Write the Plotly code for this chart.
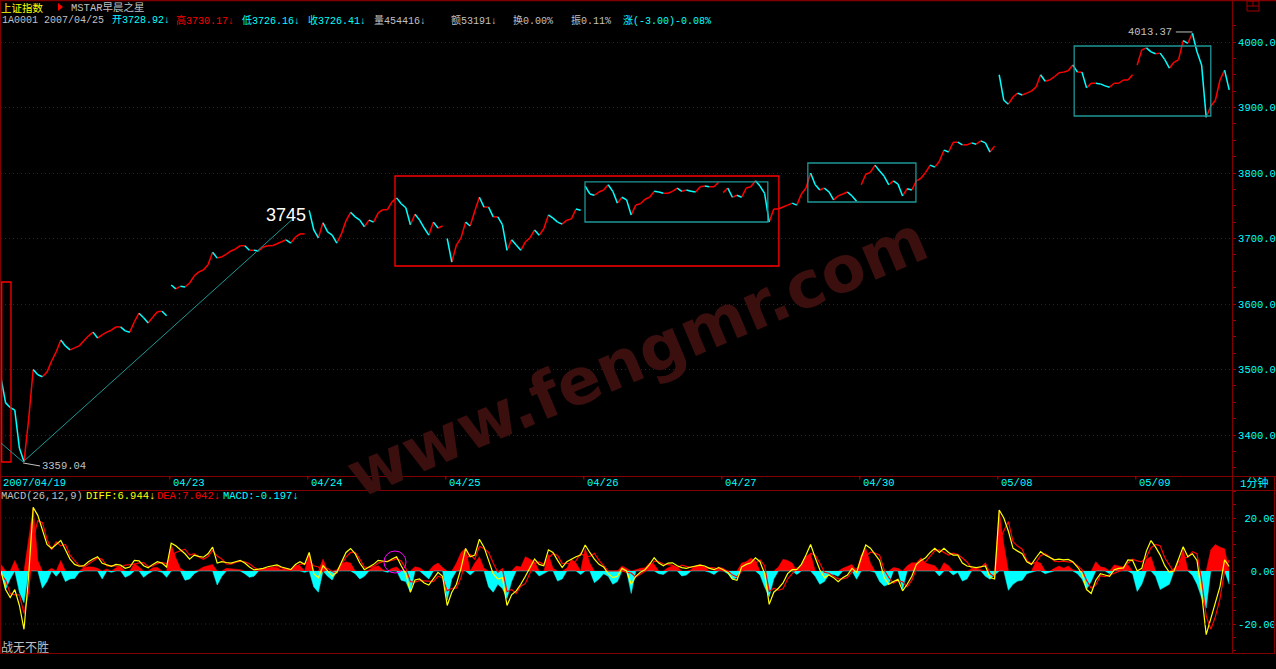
import plotly.graph_objects as go

W, H = 1276, 669

RED = "#ff0000"
CYAN = "#00ffff"
YELLOW = "#ffff00"
GRAY = "#c0c0c0"
FRAME = "#800000"
TEAL = "#1e9696"
MONO = "Liberation Mono, Noto Sans CJK SC, monospace"
CJK = "Noto Sans CJK SC, sans-serif"

# trading days shown on the 1-minute chart (first label only on 04/19)
day_labels = ["2007/04/19", "04/23", "04/24", "04/25", "04/26",
              "04/27", "04/30", "05/08", "05/09"]

# close prices, one value every few minutes
p_0419 = [3487, 3449, 3442, 3438, 3380, 3359.04, 3423, 3500, 3492, 3489,
          3496, 3513, 3527, 3545, 3536, 3530, 3533, 3536, 3544, 3551,
          3557, 3548, 3553, 3557, 3560, 3565, 3565, 3559, 3557, 3573,
          3586, 3579, 3571, 3580, 3588, 3589, 3582]
p_0423 = [3629, 3623, 3627, 3626, 3632, 3643, 3649, 3652, 3660, 3679,
          3670, 3672, 3676, 3681, 3684, 3689, 3689, 3682, 3682, 3681,
          3687, 3689, 3689, 3692, 3695, 3698, 3693, 3702, 3707, 3707]
p_0424 = [3743, 3713, 3701, 3724, 3710, 3705, 3693, 3707, 3727, 3740,
          3733, 3728, 3718, 3728, 3725, 3739, 3744, 3744, 3756, 3762,
          3753, 3747, 3721, 3737, 3728, 3716, 3705, 3725, 3716, 3719]
p_0425 = [3700, 3664, 3690, 3701, 3725, 3719, 3742, 3763, 3748, 3748,
          3733, 3733, 3721, 3682, 3698, 3690, 3682, 3695, 3701, 3713,
          3705, 3715, 3736, 3731, 3725, 3722, 3728, 3730, 3745, 3743]
p_0426 = [3780, 3768, 3766, 3771, 3774, 3782, 3772, 3754, 3763, 3759,
          3736, 3751, 3753, 3760, 3763, 3772, 3771, 3769, 3769, 3772,
          3777, 3772, 3774, 3772, 3771, 3779, 3780, 3779, 3779, 3786]
p_0427 = [3770, 3777, 3763, 3766, 3763, 3777, 3779, 3788, 3780, 3769,
          3725, 3745, 3745, 3748, 3751, 3754, 3751, 3768, 3777, 3800,
          3782, 3774, 3777, 3771, 3759, 3765, 3768, 3771, 3765, 3757]
p_0430 = [3782, 3798, 3801, 3812, 3803, 3795, 3782, 3788, 3783, 3765,
          3776, 3774, 3788, 3792, 3801, 3812, 3809, 3818, 3835, 3832,
          3847, 3847, 3843, 3843, 3846, 3844, 3849, 3846, 3832, 3841]
p_0508 = [3950, 3911, 3905, 3916, 3922, 3919, 3922, 3925, 3931, 3950,
          3940, 3942, 3947, 3953, 3954, 3956, 3965, 3954, 3954, 3930,
          3937, 3937, 3936, 3933, 3931, 3937, 3937, 3942, 3942, 3950]
p_0509 = [3965, 3988, 3991, 3985, 3982, 3983, 3973, 3960, 3969, 3973,
          4002, 3998, 4013.37, 3985, 3965, 3885, 3902, 3911, 3942, 3957,
          3927]
price_days = [p_0419, p_0423, p_0424, p_0425, p_0426, p_0427, p_0430, p_0508, p_0509]

# MACD(26,12,9): DIFF line and MACD bar, same sampling as the prices
diff_vals = (
    [0, -7, -10, -7, -13, -22, -2, 24, 21, 15, 10, 8.5, 10, 11.5, 8, 4.5, 2.5, 1.8, 2, 3.5,
     4.5, 5.4, 2.9, 2.3, 1.8, 2.5, 2.2, 1, 1.5, 4, 3.8, 2, 1.2, 2.5, 3.5, 3, 1.5]
    + [10.5, 9.5, 8, 6.5, 4.5, 6, 5.5, 5.2, 6.5, 9, 3, 3.5, 3.2, 3, 3.5, 4, 3, 1.5, 0.4, 0.6,
       1, 1.6, 2, 2.3, 1.5, 1, 0.5, 2.5, 3.5, 2.5]
    + [7, -1, -2.5, 2, 0, -1.9, -0.5, 3.5, 7, 8.5, 6.5, 3, 0.5, 1.5, 2.5, 4, 3.8, 3.5, 4.5, 5.4,
       2, -1, -8, -3.4, -3, -4.5, -5.3, -3, -0.5, -2]
    + [-13, -8, -5, 1, 8.5, 5.4, 6, 12, 9, 4, -1, -3, -2.5, -13, -9, -7.5, -5, -2, 1.5, 4.5,
       2.5, 2, 8, 7, 4, 1.3, 3.5, 4.5, 5.4, 6]
    + [9.8, 7, 4.5, 2.5, 1.5, -1, -2.5, -2, 1, 0, -5, -2, -0.5, 0.5, 2.5, 5, 3, 2, 3, 3.1,
       2, 1.3, 1, 1.5, 1.9, 2.2, 1.9, 1, 0.5, 1.3]
    + [0.5, -0.5, -3, -3.5, 1.5, 2.5, 3.1, 5, 3.5, -1, -12.6, -8, -6.5, -4.5, -1, 0.5, 0.5, 2.5, 6, 10,
       5, 0.5, -2.5, -1.5, -2.5, -4, -2.5, -1.5, 1, -0.5]
    + [5, 9.8, 8.6, 6.5, 4, -2.5, -5, -4, -3.1, -7.5, -5, -2, 2.5, 4, 5, 7, 8.6, 7, 8.6, 7,
       6, 6, 3, 1.9, 1.5, 1.3, 1.6, 1.9, -2.5, -3]
    + [23, 20, 15, 8.6, 7.5, 6.5, 3.5, 2.5, 5, 7.3, 6, 5, 4.2, 4.5, 4.2, 4.4, 3.5, 1.5, -1, -7,
       -8.5, -3.5, -1, -1.5, -2, 0.5, 1, 1.2, 4.2, 4]
    + [0, 1, 7.5, 11.5, 9, 6, 2, -0.5, 0, 4.5, 9.2, 5.4, 6.5, 4, -8.4, -24, -18, -12.2, -5.9, 4.2,
       1.7]
)
macd_vals = (
    [2.5, -7, -3, 4, -8, -12, 12, 24, 4, -6.5, -4, 1, -2, 4, -4, -3, -2.8, -0.5, 1.2, 1.6,
     1.5, 1, -3, 0.8, -0.5, 1.2, 1.6, -2.4, -1.5, 2.9, 1.5, -2.4, -1, 1.2, 1.4, -0.5, -2.4]
    + [10, 5, 1, -3.5, -3, -1, 0.5, 1.5, 2, 2.5, -5.3, -2, 1, 0.8, 0.5, 0.5, -1, -2.4, -2, 0.5,
       0.8, 1.2, 1.4, 1.2, 0.5, 1, 0.6, 2.3, 2, -0.5]
    + [6.7, -6, -8, 4.5, -2, -3.4, 0.5, 2.5, 3.5, 3, -1, -3, -2, 0.5, 1.5, 2, 0.5, -0.5, 1, 1.5,
       -3.5, -4, -8, 1.6, 1.2, -1.5, -3, 2, 3, 1.3]
    + [-11, -3, 3, 7, 8.6, -1.5, 3, 5.4, 1, -6, -8, -5, -6.6, -10.4, -4, 1.9, 1.5, 5.4, 4.5, 3.5,
       -1.9, -1, 6.2, 1, -3.8, -3, 1, 4.4, 3, -1.3]
    + [8.6, 3, -4.4, -3, -1, -2, -5, -4, 1.9, 1, -8.5, 0.5, 1, 1.2, 3.1, 2.5, -1, -1.3, 1.2, 1.9,
       1.5, -1.9, -1.5, 0.5, 2, 2.5, 1.5, -0.5, -1.3, 1.5]
    + [1, -1, -3.1, -2.5, 3, 3.5, 4.8, 4, -1.5, -6, -9.7, -3, 1.5, 4.4, 4, 3, -1.3, 2, 5.5, 6.6,
       -2, -5, -4, -1.3, -1.3, -2, 1, 1.9, 2.5, -3.1]
    + [6, 8.6, 3, -0.5, -4, -5.7, -5, 1.3, 1, -6.9, 2, 3.1, 3.1, 5, 3, 2.5, 2, -1.9, 3.1, 2,
       -1.5, -0.5, -3.8, -3, 0.8, 0.8, 0.5, -2, -3.1, -1.5]
    + [22.9, 10, -7.3, -5, -3.8, -3.5, -1, -0.5, 3.5, 3, -1, -0.5, 1, 1.9, 1, 1.9, 0.5, -1, -3, -6.9,
       -4, 3.5, 1.6, 1.2, -1, 2.3, 2, 1.5, 2.3, -1]
    + [-7.7, -5, 4.5, 5.4, -2, -7, -6, -5, 1, 2, 8.4, 0.5, -1.6, -5, -10, -14, 8, 10, 9, 8.4,
       -5]
)
# DEA from the software's own definition MACD = 2 * (DIFF - DEA)
dea_vals = [d - m / 2 for d, m in zip(diff_vals, macd_vals)]

price_ticks = [3400, 3500, 3600, 3700, 3800, 3900, 4000]
macd_ticks = [-20, 0, 20]
low_val, high_val, mark_val = 3359.04, 4013.37, 3745


def px(x):
    return x / W


def py(y):
    return 1 - y / H


# price line: red where it rises, cyan where it falls, broken between days
up_x, up_y, dn_x, dn_y = [], [], [], []
day_start = []
start = 0
for day in price_days:
    day_start.append(start)
    for k in range(len(day) - 1):
        if day[k + 1] >= day[k]:
            up_x += [start + k, start + k + 1, None]
            up_y += [day[k], day[k + 1], None]
        else:
            dn_x += [start + k, start + k + 1, None]
            dn_y += [day[k], day[k + 1], None]
    start += len(day)
n = start
idx = list(range(n))

fig = go.Figure()
fig.add_trace(go.Scatter(x=up_x, y=up_y, mode="lines", line=dict(color=RED, width=1.5),
                         hoverinfo="skip"))
fig.add_trace(go.Scatter(x=dn_x, y=dn_y, mode="lines", line=dict(color=CYAN, width=1.5),
                         hoverinfo="skip"))

pos = [max(v, 0) for v in macd_vals]
neg = [min(v, 0) for v in macd_vals]
fig.add_trace(go.Scatter(x=idx, y=pos, mode="lines", fill="tozeroy", fillcolor=RED,
                         line=dict(color=RED, width=0.5), xaxis="x2", yaxis="y2", hoverinfo="skip"))
fig.add_trace(go.Scatter(x=idx, y=neg, mode="lines", fill="tozeroy", fillcolor=CYAN,
                         line=dict(color=CYAN, width=0.5), xaxis="x2", yaxis="y2", hoverinfo="skip"))
fig.add_trace(go.Scatter(x=idx, y=dea_vals, mode="lines", line=dict(color=RED, width=1.2),
                         xaxis="x2", yaxis="y2", hoverinfo="skip"))
fig.add_trace(go.Scatter(x=idx, y=diff_vals, mode="lines", line=dict(color=YELLOW, width=1.2),
                         xaxis="x2", yaxis="y2", hoverinfo="skip"))

xr = [0, 267.61]
tickfont = dict(family=MONO, size=10.5, color=CYAN)
fig.update_layout(
    width=W, height=H, margin=dict(l=0, r=0, t=0, b=0),
    paper_bgcolor="black", plot_bgcolor="black", showlegend=False,
    xaxis=dict(domain=[px(1), px(1232)], range=xr, visible=False),
    yaxis=dict(domain=[py(476), py(25)], range=[3337.4, 4025.95], side="right",
               tickvals=price_ticks, ticktext=[f"{v:.1f}" for v in price_ticks],
               tickfont=tickfont, ticks="outside", ticklen=3, tickcolor="#a00000",
               minor=dict(tickmode="linear", tick0=3400, dtick=25, ticks="outside",
                          ticklen=3, tickcolor="#a00000", showgrid=False),
               showgrid=True, gridcolor=FRAME, griddash="1px,3px", gridwidth=1,
               zeroline=False, showline=False),
    xaxis2=dict(domain=[px(1), px(1232)], range=xr, visible=False, anchor="y2"),
    yaxis2=dict(domain=[py(653), py(490)], range=[-30.94, 30.57], side="right", anchor="x2",
                tickvals=macd_ticks,
                ticktext=[f"{v:6.2f}".replace(" ", "\u00a0") for v in macd_ticks],
                tickfont=tickfont, ticks="outside", ticklen=3, tickcolor="#a00000",
                minor=dict(tickmode="linear", tick0=0, dtick=5, ticks="outside",
                           ticklen=3, tickcolor="#a00000", showgrid=False),
                showgrid=False, zeroline=False, showline=False),
)

shapes = []


def pline(x0, y0, x1, y1, color=FRAME, width=1):
    shapes.append(dict(type="line", xref="paper", yref="paper", x0=px(x0), y0=py(y0),
                       x1=px(x1), y1=py(y1), line=dict(color=color, width=width)))


# window frame and panel separators
pline(0, 0.5, W, 0.5, width=1.5)
pline(0.5, 0, 0.5, 653)
pline(1232.5, 0, 1232.5, 653)
pline(1274.5, 476, 1274.5, 653)
pline(0, 476.5, W, 476.5)
pline(0, 490.5, W, 490.5)
pline(0, 653.5, 1275, 653.5)
# small icon at the top right
shapes.append(dict(type="rect", xref="paper", yref="paper", x0=px(1247), x1=px(1259),
                   y0=py(11), y1=py(1), line=dict(color="#a00000", width=1)))
pline(1247, 6, 1259, 6, color="#a00000")
pline(1253, 1, 1253, 6, color="#a00000")
# red marker triangle in the title row
shapes.append(dict(type="path", xref="paper", yref="paper",
                   path=f"M {px(58)},{py(3)} L {px(58)},{py(11)} L {px(63)},{py(7)} Z",
                   fillcolor=RED, line=dict(width=0)))
# dotted MACD levels
for v in (-20, 20):
    shapes.append(dict(type="line", xref="paper", yref="y2", x0=px(1), x1=px(1232), y0=v, y1=v,
                       line=dict(color=FRAME, width=1, dash="1px,3px")))
# red day marks on the date strip
for s in day_start[1:]:
    shapes.append(dict(type="line", xref="x", yref="paper", x0=s - 0.3, x1=s - 0.3,
                       y0=py(476), y1=py(479.5), line=dict(color="#c00000", width=1)))

# drawn boxes and trend line
def dbox(x0, x1, y0, y1, color):
    shapes.append(dict(type="rect", xref="x", yref="y", x0=x0, x1=x1, y0=y0, y1=y1,
                       line=dict(color=color, width=1.3)))


dbox(0.15, 2.17, 3358.8, 3633.6, RED)
dbox(85.65, 169.1, 3658.0, 3795.4, RED)
dbox(126.96, 166.7, 3725.2, 3786.3, TEAL)
dbox(175.4, 198.9, 3755.7, 3815.3, TEAL)
dbox(233.3, 263.0, 3887.0, 3993.9, TEAL)
shapes.append(dict(type="path", xref="x", yref="y",
                   path="M 0,3387.8 L 4.78,3358.8 L 63.9,3732.8",
                   line=dict(color=TEAL, width=1)))
shapes.append(dict(type="line", xref="x", yref="y", x0=4.8, y0=3357.3, x1=8.5, y1=3352.7,
                   line=dict(color=GRAY, width=1)))
shapes.append(dict(type="line", xref="x", yref="y", x0=255.4, y0=4015.3, x1=259, y1=4015.3,
                   line=dict(color=GRAY, width=1)))
shapes.append(dict(type="circle", xref="x2", yref="y2", x0=83.25, x1=88.05, y0=-0.75, y1=7.55,
                   line=dict(color="#ff00ff", width=1)))
fig.update_layout(shapes=shapes)

ann = []


def ptext(x, y, s, color, size=10.5, family=MONO, anchor="left"):
    ann.append(dict(xref="paper", yref="paper", x=px(x), y=py(y), text=s, showarrow=False,
                    xanchor=anchor, yanchor="middle", borderpad=0,
                    font=dict(family=family, size=size, color=color)))


# title rows
ptext(0, 7.5, "上证指数", YELLOW, size=10.5, family=CJK)
ptext(70, 7.5, "MSTAR早晨之星", GRAY, size=10.5, family=MONO)
row2 = [(1, "1A0001 2007/04/25", GRAY), (111, "开3728.92↓", CYAN), (175, "高3730.17↓", RED),
        (241, "低3726.16↓", CYAN), (307, "收3726.41↓", CYAN), (373, "量454416↓", GRAY),
        (450, "额53191↓", GRAY), (512, "换0.00%", GRAY), (570, "振0.11%", GRAY),
        (622, "涨(-3.00)-0.08%", CYAN)]
for x, s, c in row2:
    ptext(x, 20.5, s, c, size=10)
row3 = [(0, "MACD(26,12,9)", GRAY), (85, "DIFF:6.944↓", YELLOW), (156, "DEA:7.042↓", RED),
        (222, "MACD:-0.197↓", CYAN)]
for x, s, c in row3:
    ptext(x, 496, s, c)
ptext(1239, 483, "1分钟", CYAN, size=11)
ptext(0, 646, "战无不胜", GRAY, size=12, family=CJK)

# date strip labels at the start of each day
for s, lab in zip(day_start, day_labels):
    ann.append(dict(xref="x", yref="paper", x=s, y=py(483), text=lab, showarrow=False,
                    xanchor="left", yanchor="middle", font=dict(family=MONO, size=10.5, color=CYAN)))

# price marks
ann.append(dict(xref="x", yref="y", x=62.0, y=3735.9, text=str(mark_val), showarrow=False,
                font=dict(family="Liberation Sans", size=18, color="white")))
ann.append(dict(xref="x", yref="y", x=8.4, y=3352.7, text=f"{low_val:.2f}", showarrow=False,
                xanchor="left", font=dict(family=MONO, size=10.5, color=GRAY)))
ann.append(dict(xref="x", yref="y", x=255.0, y=4015.3, text=f"{high_val:.2f}", showarrow=False,
                xanchor="right", font=dict(family=MONO, size=10.5, color=GRAY)))

# watermark
ann.append(dict(xref="paper", yref="paper", x=px(637), y=py(357), text="www.fengmr.com",
                showarrow=False, textangle=-23, xanchor="center", yanchor="middle",
                font=dict(family="DejaVu Sans", size=64, weight="bold", color="#3c0f0f")))
fig.update_layout(annotations=ann)

fig.write_html("out.html", config={"displayModeBar": False},
               post_script="document.body.style.margin='0';document.body.style.overflow='hidden';")
